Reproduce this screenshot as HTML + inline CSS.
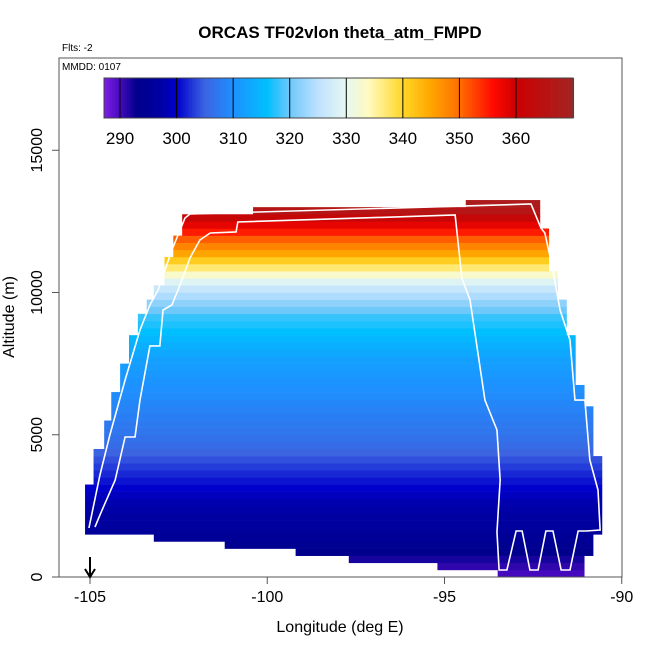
<!DOCTYPE html>
<html><head><meta charset="utf-8"><style>
body{margin:0;background:#fff;}
svg text{font-family:"Liberation Sans",sans-serif;}
</style></head><body>
<svg id="chart" width="650" height="650" xmlns="http://www.w3.org/2000/svg">
<rect width="650" height="650" fill="#fff"/>
<text x="340" y="38" font-size="17" font-weight="bold" text-anchor="middle">ORCAS TF02vlon theta_atm_FMPD</text>
<text x="62" y="51" font-size="10">Flts: -2</text>
<g id="cells"></g>
<g id="tracks"></g>
<rect x="59" y="58" width="563" height="519" fill="none" stroke="#555" stroke-width="1"/>
<text x="62" y="70" font-size="10">MMDD: 0107</text>
<g id="cbar"></g>
<g id="axes"></g>
<text x="340" y="632" font-size="16" text-anchor="middle">Longitude (deg E)</text>
<text transform="translate(14,317) rotate(-90)" font-size="16" text-anchor="middle">Altitude (m)</text>
<path d="M90 557 L90 576 M85 569 L90 577 L95 569" stroke="#000" stroke-width="2" fill="none"/>
</svg>
<script>
// row altitude bins (250 m each), starting altitude
const rowAltStart = [0,250,500,750,1000,1250,1500,1750,2000,2250,2500,2750,3000,3250,3500,3750,4000,4250,4500,4750,5000,5250,5500,5750,6000,6250,6500,6750,7000,7250,7500,7750,8000,8250,8500,8750,9000,9250,9500,9750,10000,10250,10500,10750,11000,11250,11500,11750,12000,12250,12500,12750,13000];
const rowLonMin = [-93.5,-95.2,-97.7,-99.2,-101.2,-103.2,-105.14,-105.14,-105.14,-105.14,-105.14,-105.14,-105.14,-104.9,-104.9,-104.9,-104.9,-104.9,-104.6,-104.6,-104.6,-104.6,-104.4,-104.4,-104.4,-104.4,-104.15,-104.15,-104.15,-104.15,-103.9,-103.9,-103.9,-103.9,-103.65,-103.65,-103.65,-103.4,-103.4,-103.2,-103.2,-102.9,-102.9,-102.9,-102.9,-102.65,-102.65,-102.65,-102.4,-102.4,-102.4,-100.4,-94.4];
const rowLonMax = [-91.05,-91.05,-91.05,-90.8,-90.8,-90.8,-90.55,-90.55,-90.55,-90.55,-90.55,-90.55,-90.55,-90.55,-90.55,-90.55,-90.55,-90.8,-90.8,-90.8,-90.8,-90.8,-90.8,-90.8,-91.05,-91.05,-91.05,-91.3,-91.3,-91.3,-91.3,-91.3,-91.3,-91.3,-91.55,-91.55,-91.55,-91.55,-91.55,-91.8,-91.8,-91.8,-91.8,-92.05,-92.05,-92.05,-92.05,-92.05,-92.05,-92.3,-92.3,-92.3,-92.3];
const rowTheta = [290,291,292,293,294,295,296,296.5,297,297.5,298,299,300,301,302,303,304,305,306,306.5,307,307.5,308,308.5,309,309.5,310,310.5,311,311.5,312,313,314,315,316,317,318,320,322,324,326,329,333,337,341,345,348,351,355,358,362,366,368];
// flight tracks (lon, alt)
const trackALon = [-105.03,-104.72,-104.44,-104.01,-103.59,-103.31,-103.08,-102.69,-102.32,-102.18,-92.56,-92.28,-92.17,-91.97,-91.74,-91.46,-91.32,-91.04,-90.90,-90.67,-90.61,-91.01,-91.23,-91.46,-91.71,-91.94,-92.14,-92.36,-92.59,-92.81,-92.98,-93.24,-93.46,-93.52];
const trackAAlt = [1722,3585,4991,6924,8682,9561,10088,11494,12619,12759,13111,12267,12091,10967,9385,8330,6221,6221,4112,3058,1652,1617,1617,246,246,1617,1617,246,246,1617,1617,246,246,1582];
const trackBLon = [-93.52,-93.43,-93.52,-93.86,-94.28,-94.51,-94.70,-100.83,-100.88,-101.61,-101.90,-102.18,-102.46,-102.69,-102.94,-103.03,-103.31,-103.59,-103.73,-104.01,-104.29,-104.72,-104.86];
const trackBAlt = [1582,3409,5167,6221,9736,10510,12724,12478,12127,12091,11845,11213,10264,9561,9385,8120,8120,6221,4921,4921,3409,2179,1757];
const cbTicks = [290,300,310,320,330,340,350,360];
const xTicks = [-105,-100,-95,-90];
const yTicks = [0,5000,10000,15000];

const NS='http://www.w3.org/2000/svg';
const xs = lon => 90 + (lon + 105) * 35.45;
const ys = alt => 577 - alt * 0.02845;
const stops = [[287,[128,32,232]],[290,[70,10,190]],[293,[0,0,140]],[297,[0,0,160]],[300,[0,0,205]],[305,[60,100,225]],[310,[30,144,255]],[316,[0,191,255]],[320,[110,200,250]],[325,[190,225,255]],[330,[230,248,240]],[334,[255,250,190]],[340,[255,215,40]],[345,[255,165,0]],[350,[255,110,0]],[356,[255,10,0]],[360,[205,0,0]],[370,[165,35,35]]];
function col(v){
  if(v<=stops[0][0]) return 'rgb('+stops[0][1]+')';
  for(let i=1;i<stops.length;i++){
    if(v<=stops[i][0]){const a=stops[i-1],b=stops[i],t=(v-a[0])/(b[0]-a[0]);
      return 'rgb('+a[1].map((c,k)=>Math.round(c+(b[1][k]-c)*t)).join(',')+')';}
  }
  return 'rgb('+stops[stops.length-1][1]+')';
}
const cells=document.getElementById('cells');
rowAltStart.forEach((a,i)=>{
  const r=document.createElementNS(NS,'rect');
  const x0=xs(rowLonMin[i]), x1=xs(rowLonMax[i]), y0=ys(a+250), y1=ys(a);
  r.setAttribute('x',x0);r.setAttribute('y',y0);r.setAttribute('width',x1-x0);r.setAttribute('height',y1-y0+0.3);
  r.setAttribute('fill',col(rowTheta[i]));
  
  
  cells.appendChild(r);
});
const tr=document.getElementById('tracks');
[[trackALon,trackAAlt],[trackBLon,trackBAlt]].forEach(([lo,al],k)=>{
  const p=document.createElementNS(NS,'polyline');
  p.setAttribute('points',lo.map((l,i)=>xs(l)+','+ys(al[i])).join(' '));
  p.setAttribute('fill','none');p.setAttribute('stroke','#fff');p.setAttribute('stroke-width','1.6');
  
  
  tr.appendChild(p);
});
// colorbar
const cb=document.getElementById('cbar');
const cx = v => 120 + (v-290)*5.657;
for(let v=287.2; v<370; v+=0.5){
  const r=document.createElementNS(NS,'rect');
  r.setAttribute('x',cx(v));r.setAttribute('y',78);r.setAttribute('width',3.2);r.setAttribute('height',40);
  r.setAttribute('fill',col(v+0.25));
  
  
  cb.appendChild(r);
}
const fr=document.createElementNS(NS,'rect');
fr.setAttribute('x',104);fr.setAttribute('y',78);fr.setAttribute('width',469);fr.setAttribute('height',40);
fr.setAttribute('fill','none');fr.setAttribute('stroke','#444');


cb.appendChild(fr);
cbTicks.forEach(v=>{
  const l=document.createElementNS(NS,'line');
  l.setAttribute('x1',cx(v));l.setAttribute('x2',cx(v));l.setAttribute('y1',78);l.setAttribute('y2',118);l.setAttribute('stroke','#000');
  
  
  cb.appendChild(l);
  const t=document.createElementNS(NS,'text');
  t.setAttribute('x',cx(v));t.setAttribute('y',144);t.setAttribute('font-size','17');t.setAttribute('text-anchor','middle');
  t.textContent=v;
  
  
  cb.appendChild(t);
});
// axes
const ax=document.getElementById('axes');
xTicks.forEach(v=>{
  const l=document.createElementNS(NS,'line');
  l.setAttribute('x1',xs(v));l.setAttribute('x2',xs(v));l.setAttribute('y1',577);l.setAttribute('y2',584);l.setAttribute('stroke','#555');
  
  
  ax.appendChild(l);
  const t=document.createElementNS(NS,'text');
  t.setAttribute('x',xs(v));t.setAttribute('y',602);t.setAttribute('font-size','16');t.setAttribute('text-anchor','middle');
  t.textContent=v;
  
  
  ax.appendChild(t);
});
yTicks.forEach(v=>{
  const l=document.createElementNS(NS,'line');
  l.setAttribute('x1',52);l.setAttribute('x2',59);l.setAttribute('y1',ys(v));l.setAttribute('y2',ys(v));l.setAttribute('stroke','#555');
  
  
  ax.appendChild(l);
  const t=document.createElementNS(NS,'text');
  t.setAttribute('transform','translate(42,'+ys(v)+') rotate(-90)');t.setAttribute('font-size','16');t.setAttribute('text-anchor','middle');
  t.textContent=v;
  
  
  ax.appendChild(t);
});
</script>
</body></html>
